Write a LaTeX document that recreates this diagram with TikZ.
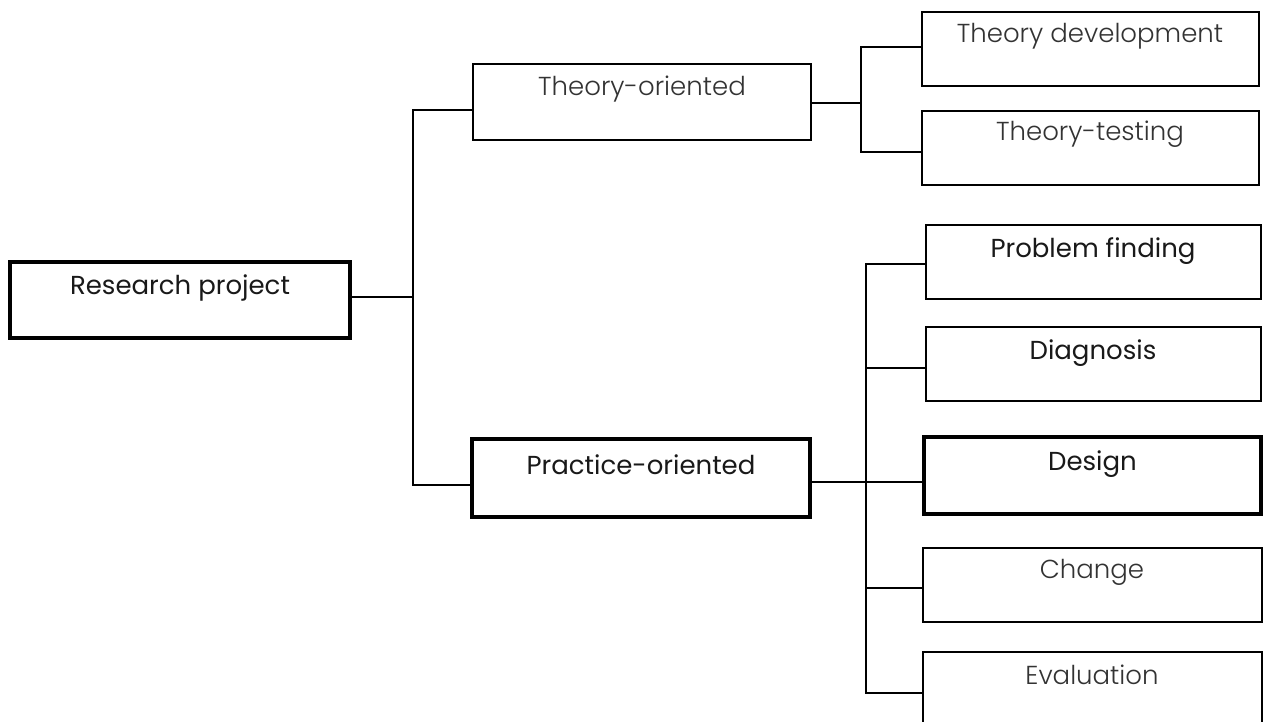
\documentclass[tikz,border=0pt]{standalone}
\usepackage{fontspec}
\setmainfont{Poppins}
\newfontfamily\lightfont{Poppins Light}

\begin{document}
\begin{tikzpicture}[x=1pt,y=-1pt,
  box/.style={draw=black, line width=2pt, fill=white, inner sep=0pt},
  heavybox/.style={box, line width=4pt},
  wire/.style={draw=black, line width=2pt},
  boldlbl/.style={anchor=base, inner sep=0pt, text=black!90,
    font=\fontsize{26}{30}\selectfont},
  thinlbl/.style={anchor=base, inner sep=0pt, text=black!80,
    font=\lightfont\fontsize{26}{30}\selectfont}]

\useasboundingbox (0,0) rectangle (1265,721);
\clip (0,0) rectangle (1265,721);

% boxes
\node[heavybox, minimum width=340pt, minimum height=76pt] (R)  at (180,300)    {};
\node[box,      minimum width=338pt, minimum height=76pt] (T)  at (642,102)    {};
\node[heavybox, minimum width=338pt, minimum height=78pt] (P)  at (641,478)    {};
\node[box,      minimum width=337pt, minimum height=74pt] (TD) at (1090,48.5)  {};
\node[box,      minimum width=337pt, minimum height=74pt] (TT) at (1090,147.5) {};
\node[box,      minimum width=335pt, minimum height=74pt] (PF) at (1093,261.5) {};
\node[box,      minimum width=335pt, minimum height=74pt] (DG) at (1093,363.5) {};
\node[heavybox, minimum width=337pt, minimum height=77pt] (DS) at (1092.5,475.5) {};
\node[box,      minimum width=339pt, minimum height=74pt] (CH) at (1092,584.5) {};
\node[box,      minimum width=339pt, minimum height=76pt] (EV) at (1092,690)   {};

% texts, set near the top of each box
\node[boldlbl] (Rt)  at ([yshift=-34pt]R.north)  {Research project};
\node[thinlbl] (Tt)  at ([yshift=-32pt]T.north)  {Theory-oriented};
\node[boldlbl] (Pt)  at ([yshift=-37pt]P.north)  {Practice-oriented};
\node[thinlbl] (TDt) at ([yshift=-32pt]TD.north) {Theory development};
\node[thinlbl] (TTt) at ([yshift=-31pt]TT.north) {Theory-testing};
\node[boldlbl] (PFt) at ([yshift=-34pt]PF.north) {Problem finding};
\node[boldlbl] (DGt) at ([yshift=-34pt]DG.north) {Diagnosis};
\node[boldlbl] (DSt) at ([yshift=-35pt]DS.north) {Design};
\node[thinlbl] (CHt) at ([yshift=-32pt]CH.north) {Change};
\node[thinlbl] (EVt) at ([yshift=-33pt]EV.north) {Evaluation};

% junction points of the trunks
\coordinate (r1) at (413,297);
\coordinate (t1) at (413,110);
\coordinate (p1) at (413,485);
\coordinate (u0) at (861,103);
\coordinate (u1) at (861,47);
\coordinate (u2) at (861,152);
\coordinate (v1) at (866,264);
\coordinate (v2) at (866,368);
\coordinate (v3) at (866,482);
\coordinate (v4) at (866,588);
\coordinate (v5) at (866,693);

% first level
\draw[wire] (R.east |- r1) -- (r1);
\draw[wire] (T.west |- t1) -- (t1) -- (p1) -- (P.west |- p1);

% theory branch
\draw[wire] (T.east |- u0) -- (u0);
\draw[wire] (TD.west |- u1) -- (u1) -- (u2) -- (TT.west |- u2);

% practice branch
\draw[wire] (PF.west |- v1) -- (v1) -- (v5) -- (EV.west |- v5);
\draw[wire] (v2) -- (DG.west |- v2);
\draw[wire] (P.east |- v3) -- (DS.west |- v3);
\draw[wire] (v4) -- (CH.west |- v4);
\end{tikzpicture}
\end{document}
